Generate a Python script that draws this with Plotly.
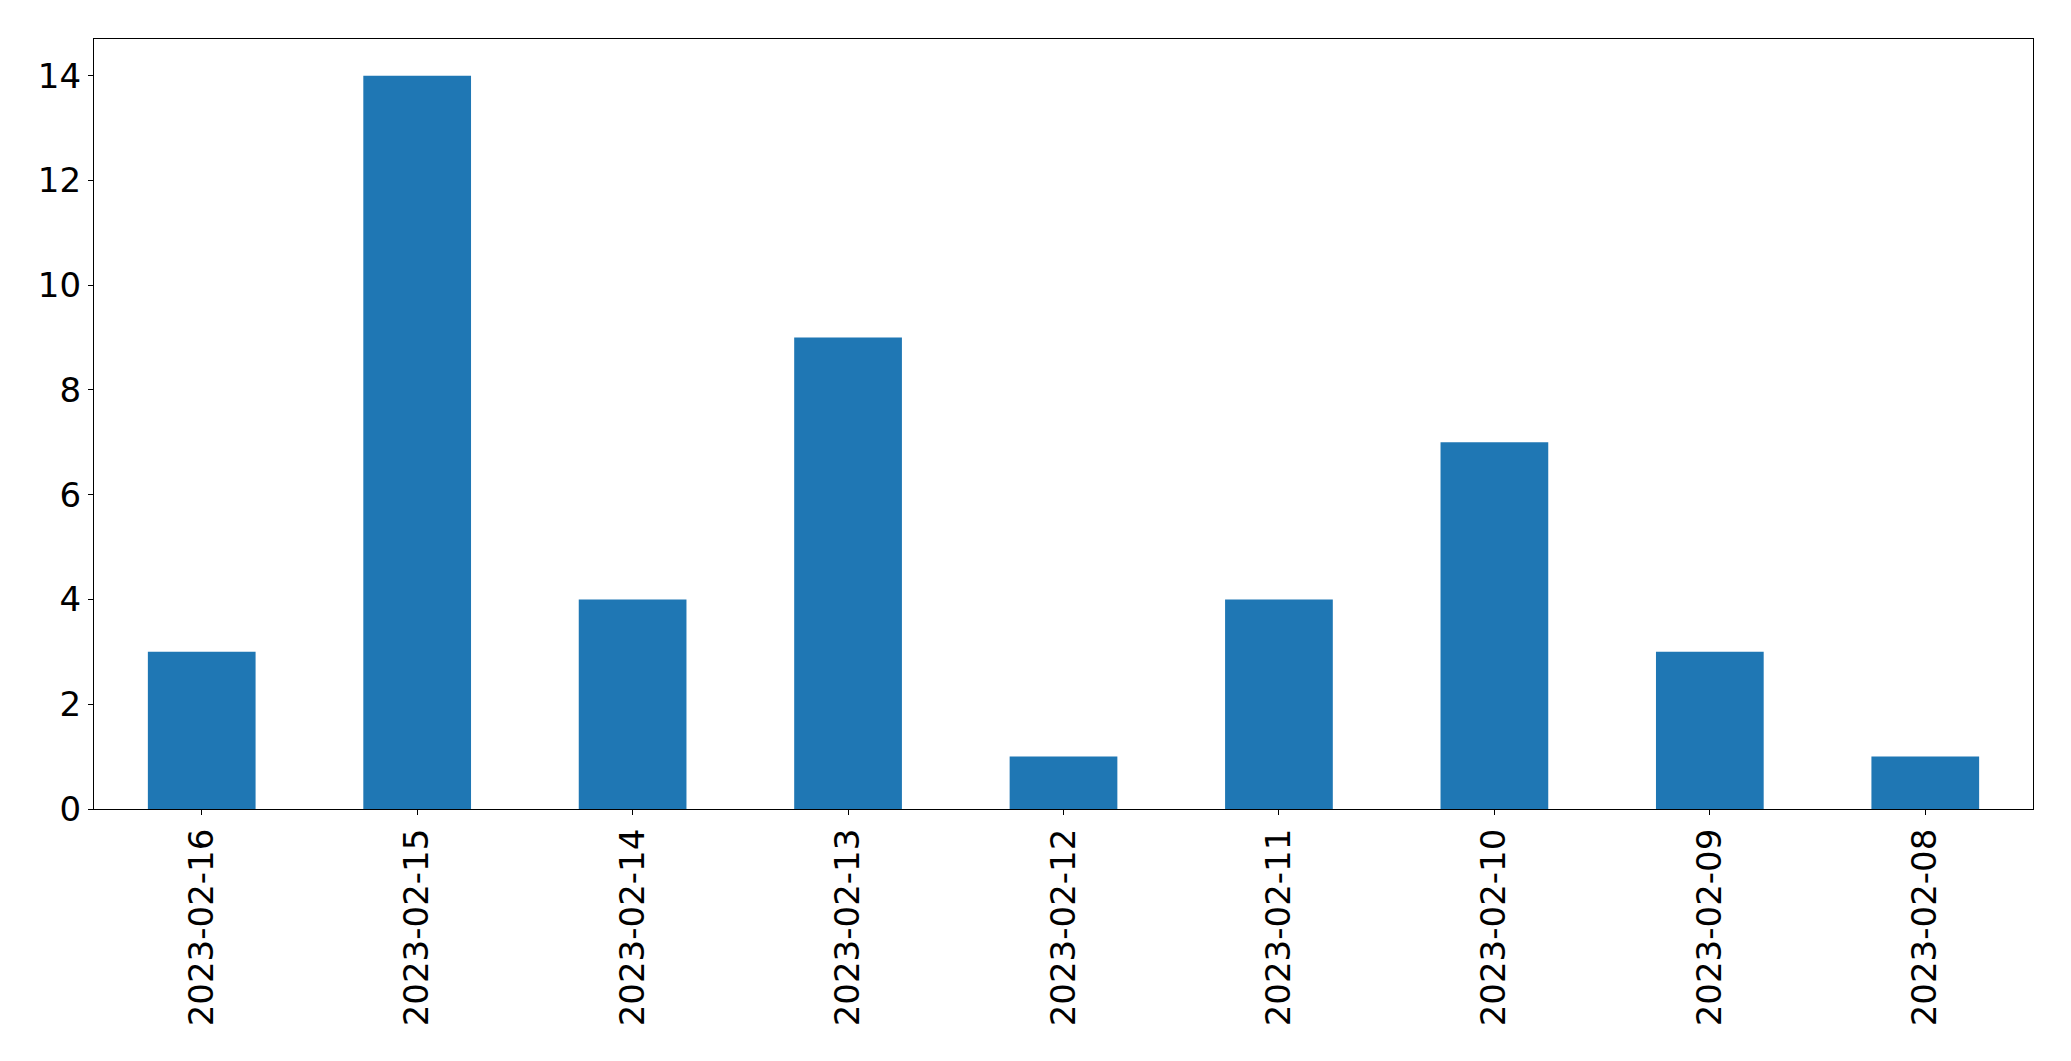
import plotly.graph_objects as go

dates = ["2023-02-16", "2023-02-15", "2023-02-14", "2023-02-13", "2023-02-12",
         "2023-02-11", "2023-02-10", "2023-02-09", "2023-02-08"]
counts = [3, 14, 4, 9, 1, 4, 7, 3, 1]
y_ticks = [0, 2, 4, 6, 8, 10, 12, 14]

fig = go.Figure(go.Bar(x=dates, y=counts, width=0.5, marker_color="#1f77b4",
                       marker_line_width=0))

axis_common = dict(showline=True, linecolor="black", linewidth=1.2, mirror=True,
                   ticks="outside", ticklen=5, tickwidth=1.2, tickcolor="black",
                   showgrid=False, zeroline=False,
                   tickfont=dict(family="DejaVu Sans", size=34, color="black"))

fig.update_layout(
    width=2071, height=1061,
    margin=dict(l=86, r=46, t=31, b=260),
    paper_bgcolor="white", plot_bgcolor="white",
    showlegend=False,
    xaxis=dict(type="category", range=[-0.5, 8.5], tickangle=-90, **axis_common),
    yaxis=dict(range=[0, 14.7], tickvals=y_ticks, **axis_common),
)

fig.write_html("out.html")
